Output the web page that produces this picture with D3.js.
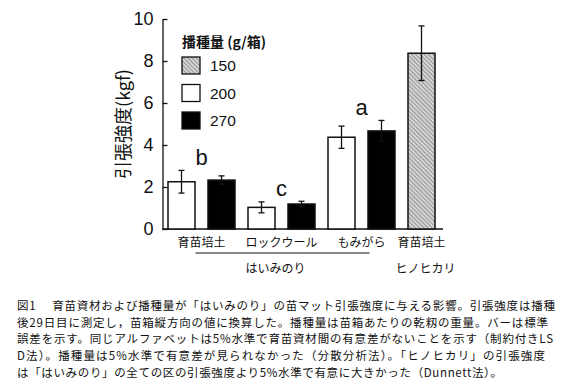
<!DOCTYPE html>
<html>
<head>
<meta charset="utf-8">
<script src="https://cdn.jsdelivr.net/npm/d3@7"></script>
<style>
  body { margin: 0; background: #fff; }
  svg { display: block; }
  text { fill: #111; }
  .jp { font-family: "Noto Sans CJK JP", "Noto Sans", sans-serif; }
  .num { font-family: "Liberation Sans", Arial, sans-serif; }
</style>
</head>
<body>
<svg id="graph" width="565" height="390"></svg>
<script>
// data
var groups = ["g1", "g2", "g3", "g4"];
var groupLabels = ["育苗培土", "ロックウール", "もみがら", "育苗培土"];
var varieties = ["はいみのり", "ヒノヒカリ"];
var seedRates = ["150", "200", "270"];
var mean150 = [null, null, null, 8.37];
var se150 = [null, null, null, 1.3];
var mean200 = [2.25, 1.03, 4.37, null];
var se200 = [0.54, 0.26, 0.53, null];
var mean270 = [2.33, 1.19, 4.67, null];
var se270 = [0.2, 0.13, 0.5, null];
var letters = ["b", "c", "a", null];
var yTicks = [0, 2, 4, 6, 8, 10];
var caption = [
  "図1　 育苗資材および播種量が「はいみのり」の苗マット引張強度に与える影響。引張強度は播種",
  "後29日目に測定し，苗箱縦方向の値に換算した。播種量は苗箱あたりの乾籾の重量。バーは標準",
  "誤差を示す。同じアルファベットは5%水準で育苗資材間の有意差がないことを示す（制約付きLS",
  "D法）。播種量は5%水準で有意差が見られなかった（分散分析法）。「ヒノヒカリ」の引張強度",
  "は「はいみのり」の全ての区の引張強度より5%水準で有意に大きかった（Dunnett法）。"
];

var svg = d3.select("#graph");

// hatch for the 150 g bar
var defs = svg.append("defs");
var pat = defs.append("pattern")
  .attr("id", "hatch")
  .attr("patternUnits", "userSpaceOnUse")
  .attr("width", 3).attr("height", 3)
  .attr("patternTransform", "rotate(-45)");
pat.append("rect").attr("width", 3).attr("height", 3).attr("fill", "#d4d4d4");
pat.append("line").attr("x1", 0).attr("y1", 0).attr("x2", 0).attr("y2", 3)
  .attr("stroke", "#555").attr("stroke-width", 1);

var fills = { "150": "url(#hatch)", "200": "#fff", "270": "#000" };

var axisX = 162.5, axisRight = 443;
var y = d3.scaleLinear().domain([0, 10]).range([229, 19]);
var x = d3.scaleBand().domain(groups).range([168, 475]).paddingInner(13 / 80).paddingOuter(0);
var slot = d3.scaleBand().domain([0, 1]).range([0, x.bandwidth()]).paddingInner(13 / 40).paddingOuter(0);

// y axis, ticks pointing inwards
var yAxis = svg.append("g")
  .attr("transform", "translate(" + axisX + ",0)")
  .call(d3.axisLeft(y).tickValues(yTicks).tickSizeInner(-5).tickSizeOuter(0).tickPadding(9));
yAxis.select(".domain").attr("stroke", "#111").attr("stroke-width", 1.3);
yAxis.selectAll(".tick line").attr("stroke", "#111").attr("stroke-width", 1.3);
yAxis.selectAll(".tick text").attr("class", "num").attr("font-size", 18).attr("fill", "#111");

// x axis line
svg.append("line")
  .attr("x1", axisX).attr("x2", axisRight)
  .attr("y1", y(0)).attr("y2", y(0))
  .attr("stroke", "#111").attr("stroke-width", 1.3);

// bars
var bars = [];
groups.forEach(function(g, i) {
  if (mean200[i] != null) bars.push({ g: g, s: 0, rate: "200", m: mean200[i], e: se200[i] });
  if (mean270[i] != null) bars.push({ g: g, s: 1, rate: "270", m: mean270[i], e: se270[i] });
  if (mean150[i] != null) bars.push({ g: g, s: 0, rate: "150", m: mean150[i], e: se150[i] });
});

svg.selectAll("rect.bar")
  .data(bars)
  .enter().append("rect")
    .attr("class", "bar")
    .attr("x", function(d) { return x(d.g) + slot(d.s); })
    .attr("width", slot.bandwidth())
    .attr("y", function(d) { return y(d.m); })
    .attr("height", function(d) { return y(0) - y(d.m); })
    .attr("fill", function(d) { return fills[d.rate]; })
    .attr("stroke", "#111").attr("stroke-width", 1.5);

// error bars
var eb = svg.selectAll("g.err").data(bars).enter().append("g").attr("class", "err")
  .attr("stroke", "#111").attr("stroke-width", 1.3);
var cx = function(d) { return x(d.g) + slot(d.s) + slot.bandwidth() / 2; };
eb.append("line")
  .attr("x1", cx).attr("x2", cx)
  .attr("y1", function(d) { return y(d.m + d.e); })
  .attr("y2", function(d) { return y(d.m - d.e); });
eb.append("line")
  .attr("x1", function(d) { return cx(d) - 3; }).attr("x2", function(d) { return cx(d) + 3; })
  .attr("y1", function(d) { return y(d.m + d.e); }).attr("y2", function(d) { return y(d.m + d.e); });
eb.append("line")
  .attr("x1", function(d) { return cx(d) - 3; }).attr("x2", function(d) { return cx(d) + 3; })
  .attr("y1", function(d) { return y(d.m - d.e); }).attr("y2", function(d) { return y(d.m - d.e); });

// significance letters
groups.forEach(function(g, i) {
  if (!letters[i]) return;
  var top = d3.max([mean200[i] + se200[i], mean270[i] + se270[i]]);
  svg.append("text")
    .attr("class", "num")
    .attr("x", x(g) + x.bandwidth() / 2)
    .attr("y", y(top) - 5)
    .attr("text-anchor", "middle")
    .attr("font-size", 22)
    .text(letters[i]);
});

// category labels
svg.selectAll("text.cat")
  .data(groups)
  .enter().append("text")
    .attr("class", "cat jp")
    .attr("x", function(d, i) { return i < 3 ? x(d) + x.bandwidth() / 2 : x(d) + slot(0) + slot.bandwidth() / 2; })
    .attr("y", 247)
    .attr("text-anchor", "middle")
    .attr("font-size", 12)
    .text(function(d, i) { return groupLabels[i]; });

// variety labels
var firstG = x(groups[0]) + x.bandwidth() / 2;
var lastG = x(groups[2]) + x.bandwidth() / 2;
svg.append("line")
  .attr("x1", firstG - 6).attr("x2", lastG + 8)
  .attr("y1", 253).attr("y2", 253)
  .attr("stroke", "#111").attr("stroke-width", 1);
svg.append("text").attr("class", "jp")
  .attr("x", x(groups[1]) + x.bandwidth() / 2 - 6).attr("y", 273)
  .attr("text-anchor", "middle").attr("font-size", 12)
  .text(varieties[0]);
svg.append("text").attr("class", "jp")
  .attr("x", x(groups[3]) + slot(0) + slot.bandwidth() / 2 + 4).attr("y", 273)
  .attr("text-anchor", "middle").attr("font-size", 12)
  .text(varieties[1]);

// y label
svg.append("text").attr("class", "jp")
  .attr("transform", "translate(130,124) rotate(-90)")
  .attr("text-anchor", "middle").attr("font-size", 18)
  .text("引張強度(kgf)");

// legend
var legend = svg.append("g").attr("transform", "translate(182,0)");
legend.append("text").attr("class", "jp")
  .attr("x", 0).attr("y", 47)
  .attr("font-size", 14).attr("font-weight", 700)
  .text("播種量 (g/箱)");
var li = legend.selectAll("g.li").data(seedRates).enter().append("g")
  .attr("transform", function(d, i) { return "translate(0," + (57 + i * 27.5) + ")"; });
li.append("rect").attr("width", 18).attr("height", 17)
  .attr("fill", function(d) { return fills[d]; })
  .attr("stroke", "#111").attr("stroke-width", 1.3);
li.append("text").attr("class", "num")
  .attr("x", 28).attr("y", 14)
  .attr("font-size", 15.5)
  .text(function(d) { return d; });

// caption
var capEnds = [555, 548, 553, 545, 502];
svg.selectAll("text.cap")
  .data(caption)
  .enter().append("text")
    .attr("class", "cap jp")
    .attr("x", 17)
    .attr("y", function(d, i) { return 310 + i * 16.7; })
    .attr("font-size", 11.5)
    .attr("textLength", function(d, i) { return capEnds[i] - 17; })
    .attr("lengthAdjust", "spacing")
    .text(function(d) { return d; });
</script>
</body>
</html>
